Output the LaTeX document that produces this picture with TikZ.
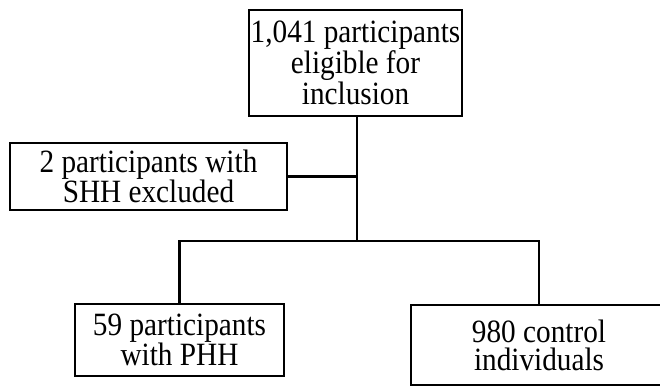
\documentclass[tikz,border=0pt]{standalone}
\usepackage{fontspec}
\setmainfont{Liberation Serif}[FakeStretch=0.9]
\begin{document}
\begin{tikzpicture}[x=1pt,y=-1pt,
  box/.style={draw=black,line width=2.4pt,align=center,inner sep=0pt,
    font=\fontsize{32.5}{28}\selectfont},
  link/.style={draw=black,line width=2.4pt}]
\useasboundingbox (0,0) rectangle (660,387);
\clip (0,0) rectangle (660,387);
\node[box,minimum width=213pt,minimum height=106pt] (top) at (355.5,63) {1,041 participants\\eligible for\\inclusion};
\node[box,minimum width=277pt,minimum height=67pt] (shh) at (148.5,176.5) {2 participants with\\SHH excluded};
\node[box,minimum width=209pt,minimum height=72pt] (phh) at (179.5,340) {59 participants\\with PHH};
\node[box,minimum width=256pt,minimum height=80pt] (ctl) at (539,345) {980 control\\individuals};
\coordinate (j1) at (357,176.5);
\coordinate (j2) at (357,241);
\draw[link] (top.south -| j1) -- (j2);
\draw[link] (shh.east) -- (j1);
\draw[link] (phh.north) |- (j2) -| (ctl.north);
\end{tikzpicture}
\end{document}
